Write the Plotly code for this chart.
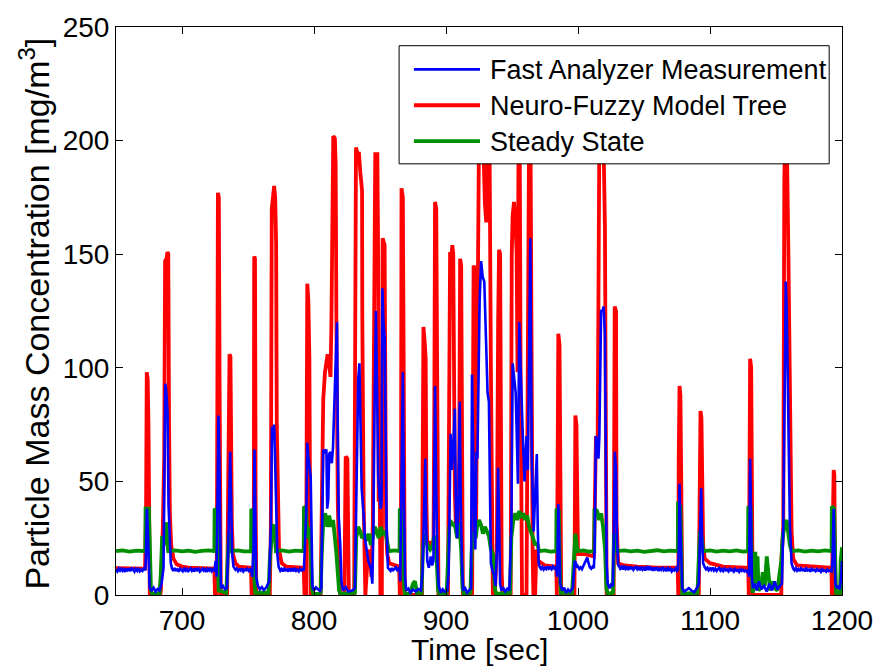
import plotly.graph_objects as go

# Time [sec] / concentration [mg/m^3] samples for each signal
fast_analyzer = [
    (650, 11.2), (651, 10.4), (652, 11.6), (653, 10.8), (654, 11.9), (655, 10.6), (656, 11.3), (657, 10.2),
    (658, 11.7), (659, 10.9), (660, 11.4), (661, 10.5), (662, 12.0), (663, 11.0), (664, 10.3), (665, 11.5),
    (666, 10.7), (667, 11.8), (668, 10.4), (669, 11.1), (670, 10.6), (671, 11.6), (672, 10.9),
    (672.3, 11), (672.8, 20), (673.4, 38), (674.0, 30), (674.8, 8), (675.5, 3), (677, 2), (678.5, 3.2),
    (680, 1.5), (681.5, 2.6), (683, 2), (684.5, 5), (686.0, 12), (686.8, 50), (687.3, 93), (688.0, 90),
    (689.0, 81), (689.8, 40), (690.5, 25), (691.5, 14),
    (692.5, 11.5), (693.5, 10.6), (694.5, 11.8), (695.5, 10.9), (696.5, 11.3), (697.5, 10.3), (698.5, 11.6),
    (699.5, 11.0), (700.5, 10.5), (701.5, 11.9), (702.5, 10.8), (703.5, 11.4), (704.5, 10.2), (705.5, 11.1),
    (706.5, 11.7), (707.5, 10.6), (708.5, 11.2), (709.5, 10.4), (710.5, 11.8), (711.5, 10.9), (712.5, 11.5),
    (713.5, 10.3), (714.5, 11.0), (715.5, 11.6), (716.5, 10.7), (717.5, 11.3), (718.5, 10.1), (719.5, 11.4),
    (720.5, 10.8), (721.5, 11.9), (722.5, 10.5), (723.5, 11.2), (724.5, 10.9),
    (725.5, 15), (726.2, 8), (727.0, 50), (727.6, 79), (728.3, 60), (728.9, 10), (729.5, 3), (731, 4),
    (732.5, 2.5), (734.0, 3), (735.0, 20), (736.5, 63), (737.3, 40), (738.0, 18), (739.0, 12.5),
    (739.5, 12.0), (740.5, 11.1), (741.5, 11.6), (742.5, 10.5), (743.5, 11.3), (744.5, 10.8), (745.5, 11.7),
    (746.5, 10.4), (747.5, 11.2), (748.5, 10.9), (749.5, 11.5), (750.5, 10.6), (751.5, 11.3), (752.3, 10.9),
    (753.2, 8), (754.2, 20), (754.9, 64), (755.5, 40), (756.2, 8), (757.5, 4), (759, 2.5), (760.5, 3.5),
    (762, 2.2), (764, 3.5), (766.0, 6), (767.3, 30), (768.2, 74), (769.0, 72), (769.8, 75), (770.5, 60),
    (771.4, 36), (772.2, 18), (773.2, 12.5),
    (773.5, 11.8), (774.5, 10.7), (775.5, 11.4), (776.5, 10.4), (777.5, 11.6), (778.5, 10.9), (779.5, 11.2),
    (780.5, 10.3), (781.5, 11.7), (782.5, 10.8), (783.5, 11.3), (784.5, 10.5), (785.5, 11.9), (786.5, 10.6),
    (787.5, 11.1), (788.5, 10.4), (789.5, 11.5), (790.5, 10.8), (791.5, 11.2), (792.3, 10.7),
    (793.0, 20), (794.3, 40), (794.9, 67), (795.8, 60), (797.5, 52), (798.2, 30), (798.8, 4), (800, 2),
    (801.5, 3.4), (803, 2.5), (804.5, 1.8), (805.5, 3), (806.2, 30), (807.0, 64), (808.0, 63), (809.4, 64),
    (810.0, 38), (810.8, 42), (811.5, 62), (812.4, 63), (813.5, 58), (814.4, 65), (815.2, 80), (816.2, 98),
    (817.4, 120), (818.0, 72), (818.7, 35), (819.9, 22), (820.8, 6), (822, 2), (824, 3.5), (826, 1.5),
    (829, 2), (831, 3), (832.2, 40), (833.5, 95), (834.4, 102), (835.3, 75), (836.1, 47), (837.5, 36),
    (838.6, 25), (841.1, 15), (843, 12), (844.2, 5), (845.0, 30), (845.8, 80), (846.9, 125), (847.8, 90),
    (848.6, 53), (849.5, 45), (850.5, 38), (851.1, 40), (851.8, 135), (852.6, 120), (853.6, 113),
    (854.2, 75), (855.0, 30),
    (856, 12), (857, 11.2), (858, 10.6), (859, 11.8), (860, 10.9), (861, 11.5), (862, 12.2), (863, 11.0),
    (864, 11.6), (864.8, 10.8),
    (865.3, 6), (866.3, 50), (867.3, 98), (868.2, 40), (869.0, 8), (869.8, 2), (871.5, 2.8), (873, 1),
    (875, 2.4), (877, 1.5), (879, 2.6), (881, 2), (882.2, 10), (883.5, 40), (884.3, 60), (885.0, 30),
    (885.8, 15), (887, 12), (888.5, 17), (889.5, 13), (890.5, 15), (891.2, 60), (891.7, 92), (892.5, 50),
    (893.5, 15), (894.5, 4), (896, 1), (897.5, 2.5), (899, 1.5), (901, 2), (902.0, 10), (903.5, 71),
    (904.5, 55), (905.5, 65), (906.7, 82), (907.6, 32), (908.5, 25), (909.5, 45), (910.4, 85), (911.2, 40),
    (912.0, 15), (913, 2), (914.5, 3), (916, 1), (919, 3), (919.7, 97), (920.6, 60), (921.5, 30),
    (922.2, 20), (923.0, 63), (923.8, 60), (924.6, 100), (925.5, 130), (926.6, 147), (927.8, 140),
    (929.0, 138), (930.2, 118), (931.5, 89), (932.5, 85), (933.5, 40), (934.0, 14), (935.5, 10),
    (936.5, 9), (937.5, 4), (938.6, 20), (939.5, 56), (940.3, 30), (941.0, 5), (942, 2), (943.5, 3),
    (945, 1.5), (946.5, 2.8), (948, 2), (949.5, 30), (950.5, 102), (951.5, 95), (952.8, 89), (953.5, 73),
    (954.5, 49), (955.5, 120), (956.8, 90), (958.0, 73), (959.5, 50), (961.0, 70), (962.0, 55),
    (963.2, 120), (963.9, 157), (964.5, 100), (965.0, 60), (966.4, 28), (967.5, 45), (968.8, 62),
    (969.5, 30), (970.2, 14),
    (971, 12.4), (972, 11.5), (973, 12.3), (974, 11.2), (975, 12.0), (976, 11.4), (977, 12.6), (978, 11.6),
    (979, 12.1), (980, 11.3), (981, 12.5), (982, 11.7), (983, 12.2), (983.6, 11.8),
    (984.2, 8), (985.1, 40), (985.8, 25), (986.5, 5), (988, 2), (989.5, 3.2), (991, 1), (992.5, 2.4),
    (994, 1.5), (996, 3), (997.5, 15), (998.5, 14), (999.5, 12),
    (1000, 12.5), (1001, 11.5), (1002, 12.2), (1003, 11.4), (1004, 12.8), (1005, 13.5), (1006, 15.5),
    (1007, 16.5), (1008, 14.0), (1009, 12.2), (1010, 11.6), (1011, 12.4), (1012, 11.8),
    (1012.6, 20), (1013.5, 70), (1014.5, 68), (1015.5, 60), (1016.2, 70), (1017.5, 125), (1018.5, 125),
    (1019.4, 127), (1020.4, 115), (1021.2, 50), (1021.7, 14), (1022.5, 5), (1024, 3), (1025, 4.5),
    (1026.3, 4), (1027.0, 20), (1027.9, 63), (1028.8, 55), (1029.5, 25), (1030.5, 13),
    (1031, 12.8), (1032, 11.6), (1033, 12.4), (1034, 11.2), (1035, 12.9), (1036, 11.5), (1037, 12.1),
    (1038, 11.0), (1039, 12.6), (1040, 11.4), (1041, 12.3), (1042, 11.1), (1043, 11.8), (1044, 12.7),
    (1045, 11.3), (1046, 12.0), (1047, 10.9), (1048, 12.4), (1049, 11.2), (1050, 11.9), (1051, 10.8),
    (1052, 12.2), (1053, 11.5), (1054, 12.6), (1055, 11.0), (1056, 11.7), (1057, 10.7), (1058, 12.1),
    (1059, 11.3), (1060, 11.8), (1061, 10.6), (1062, 11.9), (1063, 11.1), (1064, 12.3), (1065, 10.9),
    (1066, 11.5), (1067, 10.5), (1068, 11.8), (1069, 11.0), (1070, 11.6), (1071, 10.4), (1072, 11.2),
    (1073, 10.8), (1074, 11.7), (1075, 10.6), (1075.7, 11.1),
    (1076.4, 20), (1076.9, 49), (1077.6, 30), (1078.3, 8), (1079, 3), (1080.5, 1.5), (1082, 2),
    (1084, 3), (1086, 2), (1088, 1.2), (1090, 3), (1091.5, 5), (1092.2, 20), (1093.3, 47), (1094.0, 25),
    (1094.8, 14),
    (1096, 12.2), (1097, 11.3), (1098, 12.0), (1099, 10.9), (1100, 11.7), (1101, 11.0), (1102, 12.1),
    (1103, 10.8), (1104, 11.6), (1105, 10.6), (1106, 11.4), (1107, 11.9), (1108, 10.7), (1109, 11.3),
    (1110, 10.5), (1111, 11.6), (1112, 10.9), (1113, 11.2), (1114, 10.4), (1115, 11.5), (1116, 10.8),
    (1117, 11.1), (1118, 10.3), (1119, 11.4), (1120, 10.7), (1121, 11.0), (1122, 10.2), (1123, 11.3),
    (1124, 10.6), (1125, 11.1), (1126, 10.4), (1127, 10.9), (1128, 10.3), (1129, 10.8),
    (1129.6, 8), (1130.4, 60), (1131.0, 40), (1131.7, 8), (1132.5, 3), (1134, 5), (1135.5, 2),
    (1137, 6), (1139, 2.5), (1141, 4), (1143, 1.5), (1145, 5), (1147, 2), (1149, 6), (1151, 2.5),
    (1153, 4), (1154.5, 5), (1155.5, 30), (1156.3, 73), (1157.4, 138), (1158.2, 123), (1158.9, 85),
    (1159.8, 60), (1160.5, 31), (1161.8, 14),
    (1163, 11.6), (1164, 10.9), (1165, 11.8), (1166, 10.7), (1167, 11.4), (1168, 10.5), (1169, 11.7),
    (1170, 11.0), (1171, 11.3), (1172, 10.4), (1173, 11.6), (1174, 10.8), (1175, 11.2), (1176, 10.3),
    (1177, 11.5), (1178, 10.9), (1179, 11.1), (1180, 10.5), (1181, 11.4), (1182, 10.7), (1183, 11.0),
    (1184, 10.2), (1185, 11.3), (1186, 10.6), (1187, 10.9), (1188, 10.3), (1189, 11.2), (1190, 10.5),
    (1191, 10.8), (1192.1, 10.4),
    (1192.8, 15), (1193.7, 38), (1194.3, 20), (1195.0, 5), (1196, 3), (1197, 4), (1198.3, 2.5),
    (1199.3, 8), (1200, 15),
]

neuro_fuzzy = [
    (650, 11.8), (660, 11.6), (672.0, 11.6), (672.8, 40), (673.3, 98), (674.0, 95), (674.6, 75),
    (675.2, 30), (675.6, 0), (683.5, 0), (684.0, 2), (685.5, 30), (686.5, 60), (687.2, 147), (688.2, 148),
    (689.0, 151), (689.6, 150), (690.2, 75), (690.8, 36), (691.8, 22), (693.5, 16), (696, 13.5),
    (700, 12.5), (705, 12), (724.5, 11.6),
    (725.0, 0), (726.3, 0), (726.8, 90), (727.2, 177), (727.9, 175), (728.5, 90), (729.0, 20), (729.4, 0),
    (734.2, 0), (734.6, 25), (735.3, 100), (736.0, 106), (736.7, 105), (737.3, 60), (737.8, 30),
    (738.6, 18), (740.5, 14), (743, 12.5), (752.2, 12),
    (752.8, 0), (754.3, 0), (754.7, 149), (755.3, 148), (755.8, 40), (756.3, 0), (766.5, 0), (767.3, 30),
    (768.0, 170), (768.8, 175), (769.8, 180), (770.6, 175), (771.3, 155), (771.8, 75), (772.6, 36),
    (773.5, 20), (775.5, 14), (779, 12.5), (792.2, 12),
    (792.8, 0), (794.0, 0), (794.5, 120), (794.9, 137), (795.7, 130), (796.5, 104), (797.0, 40),
    (797.4, 0), (805.0, 0), (805.5, 30), (806.3, 78), (807.0, 86), (808.3, 98), (810.3, 106), (811.0, 104),
    (812.5, 96), (813.2, 120), (814.6, 202), (815.8, 201), (816.4, 190), (817.0, 118), (818.0, 41),
    (819.2, 9), (819.8, 0), (823.0, 0), (823.5, 55), (824.0, 61), (825.3, 60), (826.0, 10), (826.4, 0),
    (830.4, 0), (831.0, 120), (831.8, 197), (833.5, 193), (834.0, 195), (835.1, 186), (836.4, 178),
    (836.6, 122), (837.6, 41), (838.9, 0), (839.8, 6), (840.5, 15), (842.0, 20), (843.5, 8), (844.5, 30),
    (845.5, 122), (846.4, 194), (848.0, 194), (848.6, 150), (849.0, 41), (849.8, 52), (850.3, 0),
    (851.4, 0), (851.6, 60), (852.0, 157), (853.5, 154), (854.0, 81), (854.6, 30), (855.5, 18), (857, 14),
    (864.5, 12.5),
    (865.0, 0), (865.8, 0), (866.0, 90), (866.3, 179), (867.3, 175), (867.9, 90), (868.3, 20), (868.8, 0),
    (881.8, 0), (882.4, 60), (882.9, 118), (884.0, 110), (884.6, 104), (885.2, 40), (885.7, 23),
    (888.0, 23), (890.5, 20), (891.2, 90), (891.7, 173), (892.6, 170), (893.3, 60), (893.8, 10),
    (894.3, 0), (901.5, 0), (902.3, 80), (903.1, 151), (904.0, 148), (904.8, 154), (905.5, 150),
    (906.0, 93), (906.7, 45), (907.5, 30), (909.0, 25), (910.0, 60), (910.7, 148), (911.5, 145),
    (912.3, 60), (912.8, 0), (919.8, 0), (920.3, 80), (920.9, 145), (921.9, 143), (922.4, 60), (922.8, 30),
    (923.2, 64), (924.0, 150), (924.9, 195), (926.0, 210), (928.0, 204), (929.5, 172), (930.5, 164),
    (931.5, 205), (933.0, 198), (934.0, 100), (935.0, 40), (935.5, 0), (937.0, 0), (938.5, 20),
    (939.5, 120), (940.2, 152), (941.0, 150), (941.5, 73), (942.2, 10), (942.8, 0), (949.0, 0),
    (949.8, 150), (950.5, 167), (951.5, 173), (952.5, 165), (953.5, 151), (954.2, 98), (955.0, 205),
    (955.8, 208), (956.5, 100), (957.0, 40), (957.6, 0), (961.0, 0), (962.0, 150), (963.0, 210),
    (964.0, 205), (965.0, 57), (965.6, 20), (966.2, 0), (967.5, 0), (968.5, 20), (970, 15), (975, 13),
    (983.5, 12.5),
    (984.0, 0), (984.8, 60), (985.1, 115), (986.0, 110), (986.8, 20), (987.3, 0), (997.3, 0), (997.6, 60),
    (998.0, 79), (998.8, 75), (999.4, 30), (1000.0, 18), (1005, 18), (1012, 17), (1012.6, 35),
    (1013.6, 70), (1014.9, 68), (1015.4, 120), (1016.2, 205), (1017.5, 210), (1019.2, 205),
    (1020.4, 162), (1021.2, 41), (1021.7, 0), (1027.0, 0), (1027.4, 80), (1027.8, 127), (1028.8, 125),
    (1029.2, 33), (1030.4, 14), (1035, 13), (1045, 12.5), (1060, 12), (1075.5, 12),
    (1076.0, 0), (1076.3, 60), (1076.9, 92), (1077.6, 88), (1078.3, 40), (1079.0, 0), (1091.5, 0),
    (1092.0, 40), (1092.8, 81), (1093.5, 78), (1094.0, 38), (1094.8, 22), (1096, 16), (1100, 14),
    (1110, 12.5), (1128.9, 12),
    (1129.4, 0), (1130.0, 60), (1130.4, 104), (1131.2, 100), (1131.8, 49), (1132.3, 0), (1154.0, 0),
    (1154.3, 17), (1155.5, 30), (1156.3, 183), (1157.3, 212), (1158.2, 200), (1159.3, 154), (1160.5, 88),
    (1161.8, 28), (1163.0, 16), (1166, 13), (1192.0, 12),
    (1192.3, 0), (1193.3, 40), (1193.7, 55), (1194.2, 53), (1194.7, 10), (1195.2, 0), (1200, 0),
]

steady_state = [
    (650, 19.3), (655, 19.6), (660, 19.1), (666, 19.5), (672.2, 19.3),
    (672.4, 38), (674.9, 38), (675.5, 15), (676.5, 2), (677.5, 0.5), (683, 0.5), (684.0, 10), (685.0, 26),
    (686.0, 22), (687.3, 30), (688.2, 32), (689.0, 22), (689.6, 19.3),
    (695, 19.6), (700, 19.2), (705, 19.5), (710, 19.0), (715, 19.4), (720, 19.6), (724.5, 19.3),
    (724.7, 38), (726.3, 37), (727.0, 15), (727.8, 2), (733.5, 1), (734.6, 20), (735.5, 27), (736.5, 26),
    (737.5, 19.3), (742, 19.6), (747, 19.2), (752.3, 19.3),
    (752.5, 38), (753.8, 36), (754.5, 10), (755.5, 1), (765.5, 1), (766.5, 15), (767.5, 25), (768.5, 30),
    (769.5, 31), (770.5, 22), (771.2, 19.3), (776, 19.6), (781, 19.1), (786, 19.5), (792.2, 19.3),
    (792.4, 39), (794.0, 38), (795.0, 25), (796.5, 30), (797.5, 20), (798.5, 3), (799.5, 0.5), (805.0, 1),
    (806.0, 20), (807.0, 32), (808.5, 36), (810.0, 30), (811.5, 35), (813.0, 30), (814.5, 33), (816.0, 25),
    (817.0, 18), (818.0, 10), (819.0, 2), (820.0, 0.5), (831.0, 1), (832.0, 25), (833.5, 30), (835.0, 28),
    (836.5, 25), (838.0, 27), (840.0, 24), (841.5, 27), (843.0, 22), (844.5, 25), (846.0, 30),
    (847.5, 28), (849.0, 25), (850.5, 30), (852.0, 27), (854.0, 28), (855.5, 22), (856.5, 20),
    (857, 19.3), (861, 19.6), (864.8, 19.3),
    (865.0, 38), (866.5, 37), (867.3, 20), (868.3, 3), (869, 0.5), (873, 1), (875, 5), (876.5, 6),
    (878, 1), (881.5, 1), (882.5, 20), (883.5, 27), (885.0, 24), (886.0, 22), (888.0, 20), (890.0, 22),
    (891.0, 26), (892.0, 25), (893.0, 15), (894.0, 2), (895, 0.5), (900.5, 1), (901.5, 15), (902.5, 30),
    (904.0, 32), (905.5, 31), (907.0, 30), (908.5, 25), (910.0, 32), (911.5, 20), (912.5, 3),
    (913.5, 0.5), (918.5, 1), (919.5, 20), (921.0, 28), (922.5, 25), (923.5, 30), (925.0, 33),
    (926.5, 31), (928.0, 27), (929.5, 30), (931.0, 28), (932.5, 26), (934.0, 20), (935.5, 18),
    (937.0, 3), (938, 0.5), (948.5, 1), (949.5, 25), (951, 33), (952.5, 36), (954, 33), (955.5, 37),
    (957, 34), (958.5, 36), (960, 33), (961.5, 35), (963, 30), (964.5, 28), (966, 25), (967.5, 22),
    (969, 23), (970.5, 19.3), (975, 19.6), (979, 19.1), (983.5, 19.3),
    (983.7, 38), (985.5, 37), (986.3, 10), (987, 1), (995.5, 1), (996.8, 15), (998.0, 27), (999.0, 22),
    (999.8, 19.3), (1004, 19.6), (1008, 19.1), (1012.3, 19.3),
    (1012.5, 38), (1014.5, 37), (1016, 33), (1017.5, 36), (1019.0, 30), (1020.5, 20), (1021.5, 3),
    (1022.5, 0.5), (1026.5, 1), (1027.3, 27), (1028.5, 24), (1029.5, 19.3),
    (1035, 19.6), (1040, 19.2), (1045, 19.5), (1050, 19.0), (1055, 19.4), (1060, 19.7), (1065, 19.2),
    (1070, 19.5), (1075.6, 19.3),
    (1075.8, 41), (1077.5, 39), (1078.3, 10), (1079, 0.5), (1090.5, 1), (1091.5, 20), (1092.3, 28),
    (1093.8, 25), (1094.8, 19.3), (1100, 19.6), (1105, 19.1), (1110, 19.5), (1115, 19.2), (1120, 19.6),
    (1125, 19.1), (1128.8, 19.3),
    (1129.0, 39), (1130.8, 38), (1131.6, 10), (1132.2, 1), (1133.5, 3), (1134.3, 19), (1135.0, 5),
    (1136.0, 17), (1136.8, 2), (1138.5, 3), (1140.0, 10), (1141.5, 4), (1143.0, 17), (1144.0, 12),
    (1145.5, 2), (1147, 6), (1149, 3), (1151, 2), (1152.5, 8), (1154.0, 15), (1155.0, 25), (1156.5, 31),
    (1158.0, 33), (1159.3, 25), (1160.5, 22), (1161.8, 19.3), (1167, 19.6), (1172, 19.1), (1177, 19.5),
    (1182, 19.2), (1187, 19.6), (1192.1, 19.3),
    (1192.3, 39), (1194.0, 38), (1194.8, 12), (1195.5, 1), (1198.5, 1), (1199.0, 15), (1200, 21),
]

# (samples, colour, width); traces listed later are drawn on top
SERIES = {
    "Neuro-Fuzzy Model Tree": (neuro_fuzzy, "#ff0000", 3.8),
    "Steady State": (steady_state, "#008f00", 3.8),
    "Fast Analyzer Measurement": (fast_analyzer, "#0000ff", 2.6),
}
LEGEND_ORDER = ["Fast Analyzer Measurement", "Neuro-Fuzzy Model Tree", "Steady State"]

X_TITLE = "Time [sec]"
Y_TITLE = "Particle Mass Concentration [mg/m<sup>3</sup>]"
X_TICKS = [700, 800, 900, 1000, 1100, 1200]
Y_TICKS = [0, 50, 100, 150, 200, 250]

FONT = "Liberation Sans, Arial, Helvetica, sans-serif"

W, H = 885, 670
MARGIN = dict(l=116, r=33, t=18, b=75)
PLOT_W = W - MARGIN["l"] - MARGIN["r"]
PLOT_H = H - MARGIN["t"] - MARGIN["b"]


def px_x(px):
    """Horizontal pixel position -> paper fraction."""
    return (px - MARGIN["l"]) / PLOT_W


def px_y(py):
    """Vertical pixel position (from top) -> paper fraction."""
    return (H - MARGIN["b"] - py) / PLOT_H


fig = go.Figure()
for name, (samples, colour, width) in SERIES.items():
    t, c = zip(*samples)
    fig.add_trace(go.Scatter(
        x=list(t), y=list(c), mode="lines", name=name, showlegend=False,
        line=dict(color=colour, width=width),
    ))

# Boxed legend in the upper right, opaque so it covers the traces beneath it
box_left, box_right, box_top, box_bottom = 403, 839, 37, 157
line_x0, line_x1, text_x = 418, 485, 493
row_y = [61, 97.5, 134]

shapes = [dict(type="rect", xref="paper", yref="paper", layer="above",
               x0=px_x(box_left), x1=px_x(box_right), y0=px_y(box_bottom), y1=px_y(box_top),
               fillcolor="white", line=dict(color="black", width=1))]
annotations = []
for name, ry in zip(LEGEND_ORDER, row_y):
    _, colour, width = SERIES[name]
    shapes.append(dict(type="line", xref="paper", yref="paper", layer="above",
                       x0=px_x(line_x0), x1=px_x(line_x1), y0=px_y(ry), y1=px_y(ry),
                       line=dict(color=colour, width=width)))
    annotations.append(dict(xref="paper", yref="paper", x=px_x(text_x), y=px_y(ry + 1),
                            xanchor="left", yanchor="middle", showarrow=False, text=name,
                            font=dict(family=FONT, size=27, color="black")))

# Axis titles, placed close to the tick labels
annotations.append(dict(xref="paper", yref="paper", x=0.5, y=px_y(650),
                        xanchor="center", yanchor="middle", showarrow=False, text=X_TITLE,
                        font=dict(family=FONT, size=30, color="black")))
annotations.append(dict(xref="paper", yref="paper", x=px_x(33), y=px_y(309),
                        xanchor="center", yanchor="middle", showarrow=False, text=Y_TITLE,
                        textangle=-90, font=dict(family=FONT, size=34, color="black")))

axis_common = dict(
    showline=True, linecolor="black", linewidth=1, mirror="ticks",
    ticks="inside", ticklen=7, tickcolor="black", tickwidth=1,
    showgrid=False, zeroline=False,
    tickfont=dict(family=FONT, size=28, color="black"),
)

fig.update_layout(
    width=W, height=H,
    margin=MARGIN,
    paper_bgcolor="white", plot_bgcolor="white",
    font=dict(family=FONT, color="black"),
    showlegend=False,
    xaxis=dict(range=[650, 1200], tickvals=X_TICKS, **axis_common),
    yaxis=dict(range=[0, 250], tickvals=Y_TICKS, **axis_common),
    shapes=shapes,
    annotations=annotations,
)

fig.write_html("out.html")
